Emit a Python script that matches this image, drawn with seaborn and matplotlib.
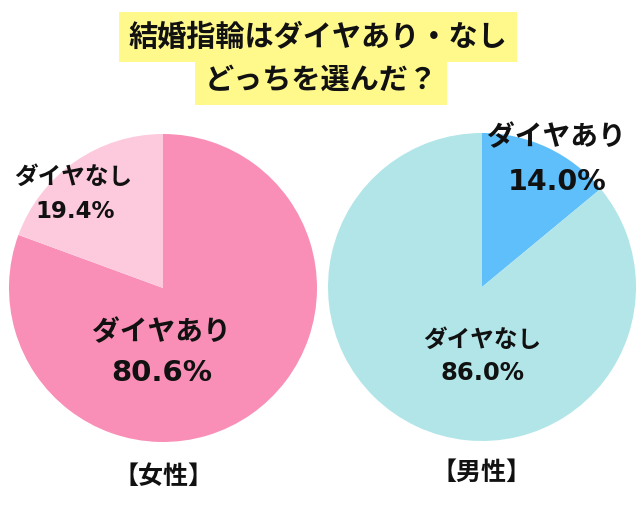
import matplotlib
matplotlib.use("Agg")
import matplotlib.pyplot as plt
import seaborn as sns

# data
title_lines = ["結婚指輪はダイヤあり・なし", "どっちを選んだ？"]
groups = ["【女性】", "【男性】"]
women_labels = ["ダイヤあり", "ダイヤなし"]
women_values = [80.6, 19.4]
men_labels = ["ダイヤあり", "ダイヤなし"]
men_values = [14.0, 86.0]

women_colors = ["#F98FB6", "#FDCADD"]
men_colors = ["#5EBFFB", "#B1E5E8"]

sns.set_theme(style="white")
plt.rcParams["font.family"] = ["Noto Sans CJK JP", "DejaVu Sans"]
NUM_FONT = ["DejaVu Sans", "Noto Sans CJK JP"]
INK = "#111111"

W, H = 640, 507
fig = plt.figure(figsize=(W / 100, H / 100), dpi=100)
fig.patch.set_facecolor("white")


def pie_axes(cx, cy, r):
    # pixel center / radius -> figure fraction axes
    return fig.add_axes([(cx - r) / W, (H - cy - r) / H, 2 * r / W, 2 * r / H])


def draw_pie(ax, values, colors):
    ax.pie(values, colors=colors, startangle=90, counterclock=False,
           radius=1, wedgeprops=dict(linewidth=0))
    ax.set_xlim(-1, 1)
    ax.set_ylim(-1, 1)
    ax.set_aspect("equal")
    ax.axis("off")


def label(ax, x, y, s, size, num=False):
    kw = dict(family=NUM_FONT) if num else {}
    ax.text(x, y, s, ha="center", va="center", fontsize=size,
            fontweight="bold", color=INK, clip_on=False, **kw)


# women
ax1 = pie_axes(163, 288, 154)
draw_pie(ax1, women_values, women_colors)
label(ax1, -0.01, -0.29, women_labels[0], 20)
label(ax1, -0.01, -0.55, f"{women_values[0]:.1f}%", 21, num=True)
label(ax1, -0.58, 0.72, women_labels[1], 17)
label(ax1, -0.57, 0.50, f"{women_values[1]:.1f}%", 16.5, num=True)
label(ax1, 0, -1.23, groups[0], 18)

# men
ax2 = pie_axes(482, 287, 154)
draw_pie(ax2, men_values, men_colors)
label(ax2, 0.48, 0.97, men_labels[0], 20)
label(ax2, 0.49, 0.68, f"{men_values[0]:.1f}%", 20.5, num=True)
label(ax2, 0, -0.34, men_labels[1], 17)
label(ax2, 0, -0.56, f"{men_values[1]:.1f}%", 17.5, num=True)
label(ax2, 0, -1.21, groups[1], 18)

# title with yellow highlight
box = dict(facecolor="#FFF98C", edgecolor="none", boxstyle="square,pad=0.33")
fig.text(318 / W, 1 - 37 / H, title_lines[0], ha="center", va="center",
         fontsize=21, fontweight="bold", color=INK, bbox=box)
fig.text(321 / W, 1 - 80 / H, title_lines[1], ha="center", va="center",
         fontsize=21, fontweight="bold", color=INK, bbox=box)

fig.savefig("out.png", dpi=100, facecolor="white")
